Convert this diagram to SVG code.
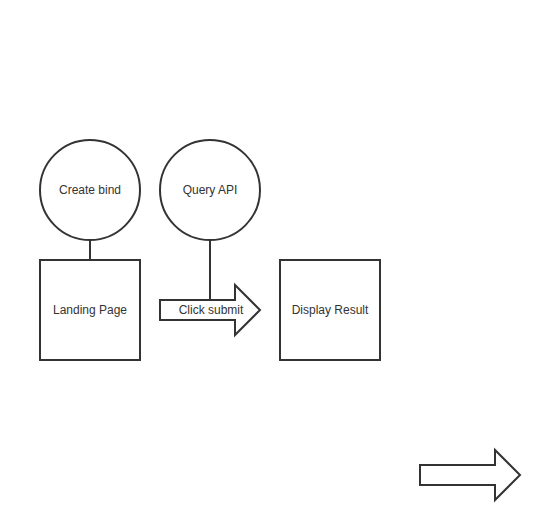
<svg xmlns="http://www.w3.org/2000/svg" width="540" height="520" viewBox="0 0 540 520">
<style>
.s{fill:#fff;stroke:#333;stroke-width:2}
.l{fill:none;stroke:#333;stroke-width:2}
text{font-family:"Liberation Sans",Arial,sans-serif;font-size:12px;fill:#333;text-anchor:middle;dominant-baseline:central}
</style>
<rect width="540" height="520" fill="#fff"/>
<g id="connectors">
<line class="l" x1="90" y1="240" x2="90" y2="260"/>
<line class="l" x1="210" y1="240" x2="210" y2="300"/>
</g>
<g id="create-bind"><circle class="s" cx="90" cy="190" r="50"/><text x="90" y="190">Create bind</text></g>
<g id="query-api"><circle class="s" cx="210" cy="190" r="50"/><text x="210" y="190">Query API</text></g>
<g id="landing-page"><rect class="s" x="40" y="260" width="100" height="100"/><text x="90" y="310">Landing Page</text></g>
<g id="display-result"><rect class="s" x="280" y="260" width="100" height="100"/><text x="330" y="310">Display Result</text></g>
<g id="click-submit"><path class="s" d="M160,300 H235 V285 L260,310 L235,335 V320 H160 Z"/><text x="211" y="310">Click submit</text></g>
<g id="arrow2"><path class="s" d="M420,465 H495 V450 L520,475 L495,500 V485 H420 Z"/></g>
</svg>
